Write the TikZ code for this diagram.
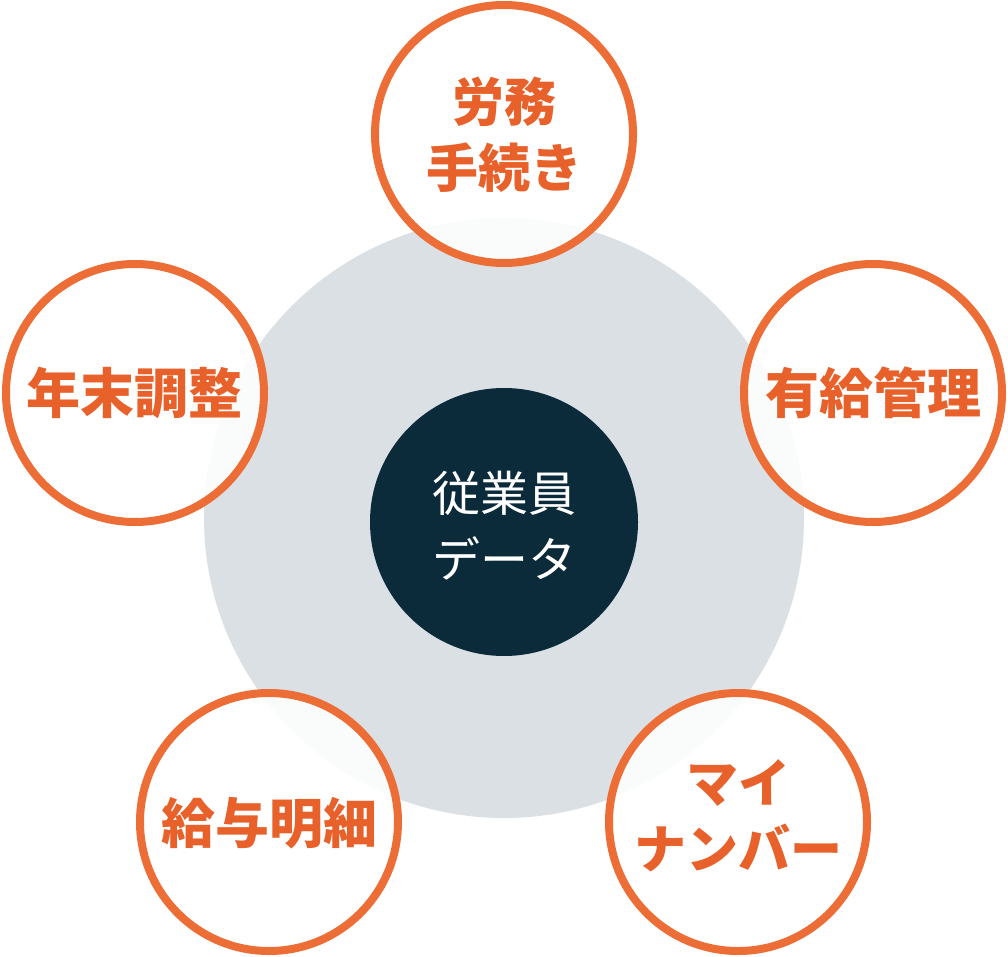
\documentclass[tikz,border=0pt]{standalone}
\usepackage{fontspec}
\newfontfamily\jp{Noto Sans CJK JP}
\definecolor{ringor}{HTML}{EC6E36}
\definecolor{txtor}{HTML}{E8612A}
\definecolor{greybg}{HTML}{DAE0E3}
\definecolor{navy}{HTML}{0B2A3A}
\begin{document}
\begin{tikzpicture}[x=1pt,y=-1pt,
  ring/.style={circle,draw=ringor,line width=8pt,fill=white,fill opacity=0.88,text opacity=1,minimum size=258pt,inner sep=0pt},
  lbl/.style={text=txtor,font=\jp\bfseries\fontsize{52}{66}\selectfont,align=center},
  lblone/.style={text=txtor,font=\jp\bfseries\fontsize{54}{66}\selectfont,align=center},
  ctr/.style={text=white,font=\jp\fontsize{48}{66}\selectfont,align=center}]
\useasboundingbox (0,0) rectangle (1008,957);
\fill[white] (0,0) rectangle (1008,957);
\node[circle,fill=greybg,minimum size=600pt,inner sep=0pt] (bg) at (504,518) {};
\node[circle,fill=navy,minimum size=268pt,inner sep=0pt] (core) at (504,522) {};
\node[ctr] (coretxt) at (504,526) {従業員\\データ};
\node[ring] (top) at (504,134) {};
\node[lbl] (toptxt) at (504,135) {労務\\手続き};
\node[ring] (right) at (873,393) {};
\node[lblone] (righttxt) at (873.5,393) {有給管理};
\node[ring] (left) at (135,393) {};
\node[lblone] (lefttxt) at (134.5,393) {年末調整};
\node[ring] (bl) at (269,822) {};
\node[lblone] (bltxt) at (269.5,823) {給与明細};
\node[ring] (br) at (738,822) {};
\node[lbl] (brtxt) at (738,816) {マイ\\ナンバー};
\end{tikzpicture}
\end{document}
